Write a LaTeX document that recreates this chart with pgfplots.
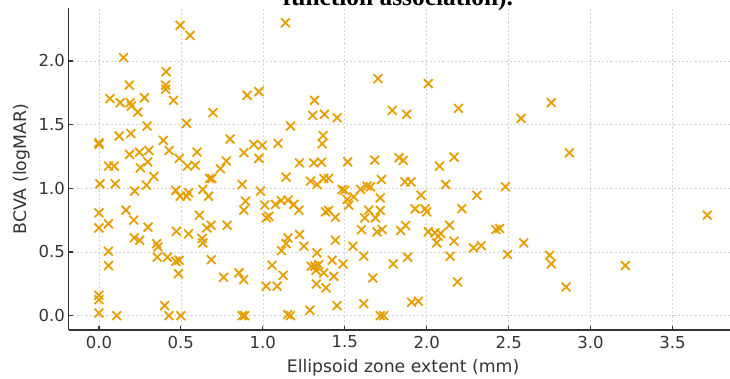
\documentclass[border=0pt]{standalone}
\usepackage{fontspec}
\setmainfont{DejaVu Sans}
\newfontfamily\titlefont{Liberation Serif}
\usepackage{pgfplots}
\pgfplotsset{compat=1.18}
\definecolor{mk}{HTML}{E69F00}
\definecolor{spine}{HTML}{333333}
\definecolor{gridc}{HTML}{D4D4D4}
\begin{document}
\begin{tikzpicture}[x=1pt,y=1pt]
\begin{axis}[
  at={(68.5pt,48.7pt)}, anchor=south west,
  scale only axis, width=669.2pt, height=322.2pt,
  xmin=-0.1856, xmax=3.8976, ymin=-0.115, ymax=2.415,
  axis lines=left,
  axis line style={-, draw=spine, line width=1.6pt},
  tick align=inside, major tick length=4.5pt,
  tick style={draw=spine, line width=1.2pt},
  xtick={0,0.5,1,1.5,2,2.5,3,3.5}, ytick={0,0.5,1,1.5,2},
  xticklabels={0.0,0.5,1.0,1.5,2.0,2.5,3.0,3.5},
  yticklabels={0.0,0.5,1.0,1.5,2.0},
  ticklabel style={font=\fontsize{16.5}{20}\selectfont, text=spine},
  xticklabel style={yshift=-2pt},
  grid=major,
  major grid style={draw=gridc, line width=0.6pt, dash pattern=on 2.2pt off 2pt},
  xlabel={Ellipsoid zone extent (mm)},
  ylabel={BCVA (logMAR)},
  label style={font=\fontsize{17.3}{20}\selectfont, text=spine},
  xlabel style={at={(axis description cs:0.5,-0.1325)}, anchor=base},
  ylabel style={at={(axis description cs:-0.0635,0.5)}, anchor=base},
  clip=false,
]
\addplot[only marks, mark=x, mark size=6.2pt, draw=mk, mark options={line width=1.8pt, draw=mk}] table {
x y
0.496 2.28
0.556 2.20
0.150 2.026
0.410 1.916
0.185 1.810
0.407 1.810
0.407 1.777
0.068 1.704
0.130 1.672
0.190 1.672
0.198 1.646
0.278 1.711
0.237 1.599
0.455 1.691
0.696 1.594
0.294 1.489
0.535 1.510
0.000 1.358
0.000 1.345
0.123 1.410
0.195 1.431
0.393 1.376
0.187 1.266
0.247 1.284
0.305 1.297
0.428 1.297
0.298 1.208
0.253 1.161
0.490 1.235
0.599 1.284
0.541 1.174
0.588 1.180
0.058 1.174
0.093 1.174
0.335 1.093
0.290 1.025
0.006 1.035
0.099 1.035
0.218 0.978
0.469 0.983
0.496 0.938
0.535 0.938
0.547 0.965
0.634 0.991
0.669 0.938
0.675 1.077
0.689 1.077
0.741 1.153
0.778 1.214
0.000 0.807
0.000 0.689
0.058 0.721
0.165 0.828
0.212 0.750
0.300 0.695
0.216 0.611
0.249 0.592
0.352 0.564
0.360 0.540
0.613 0.789
0.658 0.689
0.685 0.710
0.782 0.710
0.473 0.663
0.547 0.642
0.630 0.606
0.634 0.571
0.058 0.506
0.058 0.393
0.356 0.459
0.418 0.459
0.469 0.427
0.490 0.435
0.486 0.330
0.685 0.440
0.761 0.301
0.000 0.160
0.000 0.126
0.000 0.021
0.109 0.000
0.401 0.079
0.428 0.000
0.500 0.000
1.138 2.300
0.904 1.730
0.976 1.759
1.703 1.861
1.315 1.691
1.305 1.573
1.376 1.581
1.453 1.554
1.169 1.489
0.800 1.387
1.368 1.415
1.362 1.350
0.945 1.345
0.996 1.337
1.093 1.353
0.884 1.279
0.976 1.235
1.224 1.200
1.311 1.200
1.358 1.206
1.518 1.208
1.683 1.221
1.142 1.088
1.291 1.056
1.331 1.030
1.372 1.077
1.402 1.077
0.874 1.030
0.986 0.978
1.484 0.991
1.500 0.983
1.596 0.991
1.636 1.017
1.657 1.012
1.724 1.069
1.514 0.912
1.524 0.868
1.555 0.933
1.717 0.925
0.894 0.899
0.884 0.828
1.012 0.868
1.022 0.768
1.037 0.781
1.077 0.873
1.112 0.904
1.154 0.907
1.189 0.873
1.220 0.828
1.382 0.815
1.402 0.826
1.443 0.773
1.622 0.768
1.646 0.828
1.687 0.768
1.717 0.826
1.602 0.676
1.697 0.658
1.728 0.676
1.154 0.611
1.142 0.566
1.114 0.511
1.224 0.637
1.250 0.545
1.443 0.592
1.549 0.545
1.331 0.493
1.057 0.396
1.295 0.388
1.317 0.388
1.341 0.401
1.325 0.356
1.372 0.336
1.423 0.435
1.490 0.406
1.616 0.467
0.854 0.336
0.884 0.283
1.124 0.317
1.327 0.249
1.386 0.218
1.433 0.309
1.020 0.231
1.087 0.231
1.671 0.296
1.287 0.042
1.453 0.079
1.616 0.094
0.874 0.000
0.890 0.000
1.152 0.008
1.169 0.000
1.717 0.000
1.738 0.000
2.010 1.822
1.790 1.612
1.878 1.581
2.194 1.628
2.576 1.549
1.831 1.240
1.857 1.219
2.078 1.174
2.167 1.245
1.867 1.051
1.904 1.051
2.116 1.030
2.480 1.012
1.965 0.946
1.929 0.839
1.990 0.839
2.000 0.815
2.214 0.841
2.306 0.946
1.841 0.668
1.871 0.708
2.010 0.658
2.051 0.650
2.085 0.645
2.071 0.624
2.061 0.571
2.139 0.710
2.167 0.585
2.422 0.676
2.445 0.684
2.286 0.532
2.333 0.550
2.592 0.571
1.796 0.406
1.884 0.459
2.143 0.467
2.494 0.480
2.188 0.265
1.908 0.105
1.949 0.113
2.760 1.672
2.871 1.279
3.712 0.789
2.750 0.474
2.760 0.406
2.851 0.225
3.212 0.393
};
\end{axis}
\node[anchor=base, font=\titlefont\bfseries\fontsize{25.4}{30}\selectfont] at (398,373) {function association).};
\pgfresetboundingbox
\path[use as bounding box] (0,0) rectangle (730,379);
\end{tikzpicture}
\end{document}
